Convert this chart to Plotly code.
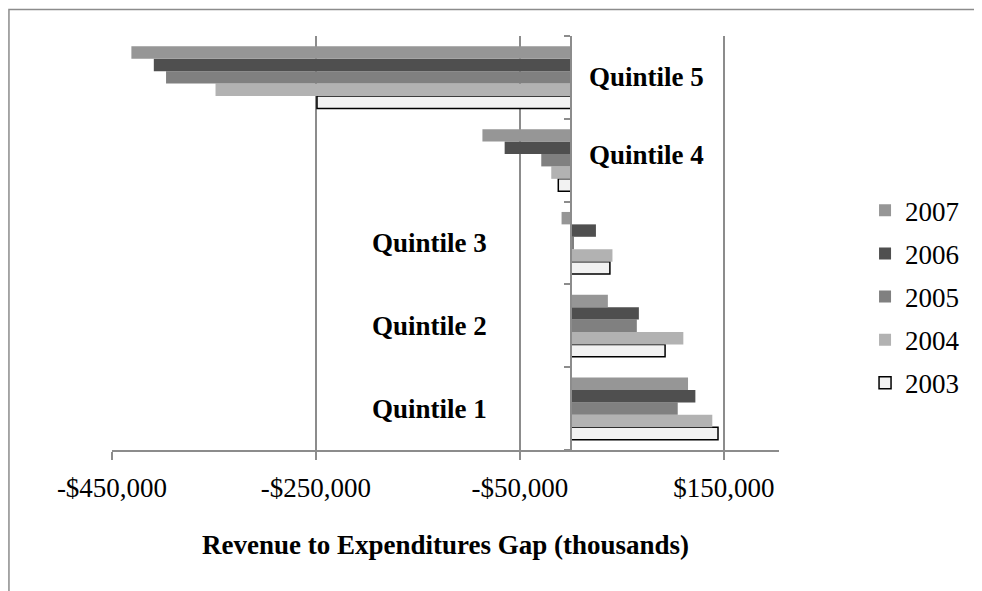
import plotly.graph_objects as go

# categories, bottom to top
quintiles = ["Quintile 1", "Quintile 2", "Quintile 3", "Quintile 4", "Quintile 5"]
years = ["2003", "2004", "2005", "2006", "2007"]

# revenue-to-expenditures gap, thousands of dollars
gap_2003 = [144200, 92300, 38200, -12400, -249000]
gap_2004 = [138600, 110200, 40700, -19300, -348500]
gap_2005 = [104700, 64600, 3000, -29100, -397000]
gap_2006 = [122000, 66600, 24500, -65000, -409000]
gap_2007 = [114800, 36200, -9200, -86800, -431000]

tick_vals = [-450000, -250000, -50000, 150000]
tick_text = ["-$450,000", "-$250,000", "-$50,000", "$150,000"]

series = [gap_2003, gap_2004, gap_2005, gap_2006, gap_2007]
fills = ["#f2f2f2", "#b2b2b2", "#808080", "#4f4f4f", "#969696"]

FONT = "Liberation Serif"
FS = 27

fig = go.Figure()
for i, (yr, vals, col) in enumerate(zip(years, series, fills)):
    outline = dict(color="black", width=1.5) if yr == "2003" else dict(width=0)
    fig.add_trace(go.Bar(
        y=quintiles, x=vals, name=yr, orientation="h",
        marker=dict(color=col, line=outline),
        legendgroup=yr, legendrank=len(years) - i,
    ))

# category labels sit beside the zero axis, on the side away from the bars
for q, v in zip(quintiles, gap_2007):
    right_side = v < -50000
    fig.add_annotation(
        x=0, y=q, xref="x", yref="y",
        text=f"<b>{q}</b>", showarrow=False,
        xanchor="left" if right_side else "right",
        xshift=16 if right_side else -82,
        yshift=5 if q == "Quintile 4" else 0,
        font=dict(family=FONT, size=FS, color="black"),
    )

# chart-area border (runs off the right and bottom of the picture)
fig.add_shape(type="rect", xref="paper", yref="paper",
              x0=-0.1545, x1=1.5, y0=-0.5, y1=1.064,
              line=dict(color="#8c8c8c", width=1.5), layer="below")

fig.update_layout(
    width=974, height=583,
    margin=dict(l=104, r=203, t=28, b=141),
    plot_bgcolor="white", paper_bgcolor="white",
    barmode="group", bargap=0.25, bargroupgap=0,
    font=dict(family=FONT, size=FS, color="black"),
    showlegend=True,
    legend=dict(
        x=1.129, xanchor="left", y=0.37, yanchor="middle",
        traceorder="grouped", tracegroupgap=5,
        font=dict(family=FONT, size=FS, color="black"),
        bgcolor="rgba(0,0,0,0)",
    ),
    xaxis=dict(
        range=[-450000, 204000],
        tickvals=tick_vals, ticktext=tick_text,
        showgrid=True, gridcolor="#8c8c8c", gridwidth=1.5,
        zeroline=False,
        showline=True, linecolor="#8c8c8c", linewidth=1.5,
        ticks="outside", ticklen=8, tickcolor="#8c8c8c", tickwidth=1.5,
        ticklabelstandoff=5,
        tickfont=dict(family=FONT, size=FS, color="black"),
        title=dict(text="<b>Revenue to Expenditures Gap (thousands)</b>",
                   font=dict(family=FONT, size=FS, color="black"),
                   standoff=33),
    ),
    yaxis=dict(
        type="category", categoryorder="array", categoryarray=quintiles,
        anchor="free", position=0.6877,
        showline=True, linecolor="#8c8c8c", linewidth=1.5,
        ticks="outside", tickson="boundaries", ticklen=6,
        tickcolor="#8c8c8c", tickwidth=1.5,
        showticklabels=False, showgrid=False, zeroline=False,
    ),
)

fig.write_html("out.html")
